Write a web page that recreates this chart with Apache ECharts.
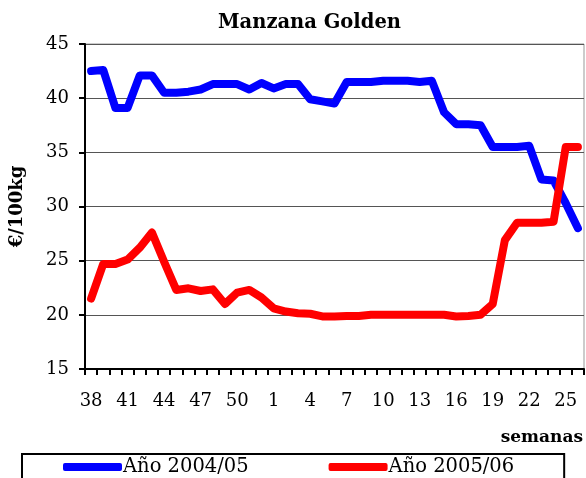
<!DOCTYPE html>
<html>
<head>
<meta charset="utf-8">
<script src="https://cdn.jsdelivr.net/npm/echarts@6/dist/echarts.min.js"></script>
<style>
  html, body { margin: 0; padding: 0; background: #fff; }
  #chart { width: 586px; height: 478px; }
</style>
</head>
<body>
<div id="chart"></div>
<script>
// semanas 38..52 y 1..26
const weeks = ['38', '39', '40', '41', '42', '43', '44', '45', '46', '47', '48', '49', '50', '51', '52',
  '1', '2', '3', '4', '5', '6', '7', '8', '9', '10', '11', '12', '13', '14', '15', '16', '17', '18',
  '19', '20', '21', '22', '23', '24', '25', '26']

const year0405 = [42.5, 42.6, 39.1, 39.1, 42.1, 42.1, 40.5, 40.5, 40.6, 40.8, 41.3, 41.3, 41.3, 40.8, 41.4,
  40.9, 41.3, 41.3, 39.9, 39.7, 39.5, 41.5, 41.5, 41.5, 41.6, 41.6, 41.6, 41.5, 41.6, 38.7,
  37.6, 37.6, 37.5, 35.5, 35.5, 35.5, 35.6, 32.5, 32.4, 30.3, 28.0]

const year0506 = [21.5, 24.7, 24.7, 25.1, 26.2, 27.6, 24.9, 22.3, 22.45, 22.2, 22.35, 21.0, 22.05, 22.3, 21.6,
  20.6, 20.3, 20.15, 20.1, 19.85, 19.85, 19.9, 19.9, 20.0, 20.0, 20.0, 20.0, 20.0, 20.0, 20.0,
  19.85, 19.9, 20.0, 21.0, 26.9, 28.5, 28.5, 28.5, 28.6, 35.5, 35.5]

const seriesNames = ['Año 2004/05', 'Año 2005/06']

const serif = 'DejaVu Serif'
const chart = echarts.init(document.getElementById('chart'))

chart.setOption({
  animation: false,
  title: {
    text: 'Manzana Golden',
    left: 218,
    top: 13,
    padding: 0,
    textStyle: { fontFamily: serif, fontWeight: 'bold', fontSize: 19.5, color: '#000' },
  },
  legend: {
    data: seriesNames,
    left: 22,
    top: 454,
    padding: [3, 50, 20, 41],
    borderColor: '#000',
    borderWidth: 2,
    itemGap: 80,
    itemWidth: 59,
    itemHeight: 8,
    icon: 'roundRect',
    textStyle: { fontFamily: serif, fontSize: 19.5, color: '#000', padding: [0, 0, 0, -4] },
  },
  grid: {
    left: 84,
    right: 1,
    top: 44,
    bottom: 109,
    show: true,
    borderColor: '#999',
    borderWidth: 1,
  },
  xAxis: {
    type: 'category',
    data: weeks,
    boundaryGap: true,
    name: 'semanas',
    nameLocation: 'end',
    nameGap: -1,
    nameTextStyle: {
      fontFamily: serif, fontWeight: 'bold', fontSize: 17, color: '#000',
      align: 'right', verticalAlign: 'top', padding: [60, 0, 0, 0],
    },
    axisLine: { lineStyle: { color: '#000', width: 2 } },
    axisTick: { show: true, interval: 0, length: 6, lineStyle: { color: '#000', width: 2 } },
    axisLabel: { interval: 2, margin: 23, fontFamily: serif, fontSize: 18, color: '#000' },
    splitLine: { show: false },
  },
  yAxis: {
    type: 'value',
    min: 15,
    max: 45,
    interval: 5,
    name: '€/100kg',
    nameLocation: 'middle',
    nameGap: 59,
    nameTextStyle: { fontFamily: serif, fontWeight: 'bold', fontSize: 18, color: '#000' },
    axisLine: { show: true, lineStyle: { color: '#000', width: 2 } },
    axisTick: { show: true, length: 6, lineStyle: { color: '#000', width: 2 } },
    axisLabel: { margin: 16, fontFamily: serif, fontSize: 18, color: '#000' },
    splitLine: { lineStyle: { color: '#555', width: 1 } },
  },
  series: [
    {
      name: seriesNames[0],
      type: 'line',
      data: year0405,
      symbol: 'none',
      color: '#0000ff',
      lineStyle: { width: 8, color: '#0000ff', cap: 'round', join: 'round' },
    },
    {
      name: seriesNames[1],
      type: 'line',
      data: year0506,
      symbol: 'none',
      color: '#ff0000',
      lineStyle: { width: 8, color: '#ff0000', cap: 'round', join: 'round' },
    },
  ],
})
</script>
</body>
</html>
